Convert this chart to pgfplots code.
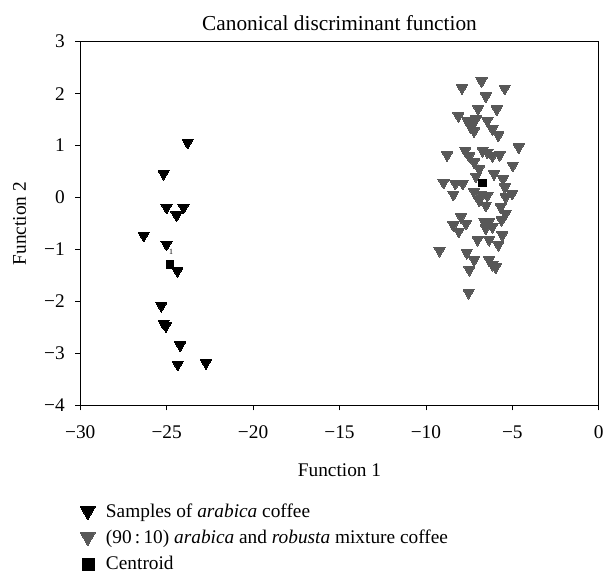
\documentclass[border=0pt]{standalone}
\usepackage{fontspec}
\setmainfont{Liberation Serif}
\usepackage{pgfplots}
\pgfplotsset{compat=1.18}
\usepackage{pgfplotstable}
\definecolor{mixgray}{RGB}{88,88,88}

\pgfplotstableread{
x y
-23.79 1.06
-25.18 0.46
-25.01 -0.19
-24.03 -0.19
-24.43 -0.34
-26.33 -0.73
-25.01 -0.90
-24.38 -1.41
-25.31 -2.08
-25.18 -2.42
-25.05 -2.47
-24.22 -2.84
-24.36 -3.21
-22.73 -3.18
}\arabica

\pgfplotstableread{
x y
-6.78 2.24
-7.91 2.11
-5.44 2.10
-6.53 1.95
-6.98 1.71
-5.90 1.70
-8.12 1.57
-7.59 1.48
-7.11 1.51
-7.39 1.35
-6.44 1.48
-6.15 1.32
-5.81 1.20
-7.21 1.28
-7.49 1.41
-4.63 0.97
-8.77 0.82
-7.72 0.90
-7.49 0.80
-6.72 0.90
-6.44 0.87
-6.15 0.80
-5.73 0.82
-7.21 0.68
-4.97 0.62
-6.92 0.55
-7.11 0.41
-6.06 0.46
-5.54 0.36
-8.98 0.29
-8.30 0.27
-7.87 0.27
-8.41 0.06
-7.21 0.11
-6.82 0.06
-6.44 0.04
-5.43 0.20
-5.00 0.08
-5.39 0.01
-6.92 -0.05
-6.53 -0.15
-5.67 -0.18
-5.39 -0.31
-5.62 -0.43
-7.97 -0.37
-8.41 -0.53
-7.68 -0.50
-8.10 -0.65
-6.63 -0.46
-6.34 -0.46
-6.53 -0.59
-6.15 -0.56
-5.58 -0.72
-7.01 -0.81
-6.34 -0.81
-5.81 -0.91
-9.21 -1.02
-7.64 -1.06
-7.21 -1.20
-6.34 -1.20
-5.96 -1.34
-7.49 -1.39
-7.53 -1.83
-6.15 -1.29
}\mixture

\pgfplotstableread{
x y
-24.80 -1.29
-6.72 0.28
}\centroid

\begin{document}
\fontsize{19.5}{23}\selectfont
\begin{tikzpicture}
\begin{axis}[
  scale only axis,
  width=523pt, height=367pt,
  xmin=-30, xmax=0, ymin=-4, ymax=3,
  xtick={-30,-25,-20,-15,-10,-5,0},
  xticklabels={−30,−25,−20,−15,−10,−5,0},
  ytick={-4,-3,-2,-1,0,1,2,3},
  yticklabels={−4,−3,−2,−1,0,1,2,3},
  tick align=outside,
  xtick pos=bottom, ytick pos=left,
  major tick length=5pt,
  tick style={black, line width=0.8pt},
  axis line style={line width=0.8pt},
  ticklabel style={font=\fontsize{19.5}{23}\selectfont},
  xticklabel style={yshift=-9pt},
  yticklabel style={xshift=-4pt},
  label style={font=\fontsize{19.5}{23}\selectfont},
  xlabel style={yshift=-12pt},
  ylabel style={yshift=5pt},
  title style={font=\fontsize{21.5}{25}\selectfont, yshift=-2pt},
  title={Canonical discriminant function},
  xlabel={Function 1},
  ylabel={Function 2},
  legend style={at={(0,-0.266)}, anchor=north west, draw=none, fill=none,
    font=\fontsize{19.5}{23}\selectfont, row sep=5.5pt, inner sep=0pt},
  legend cell align=left,
]
\addplot[only marks, mark=triangle*, mark size=6.5pt,
  mark options={rotate=180, fill=black, draw=black, line width=0pt},
  legend image code/.code={
    \draw[black, fill=black] plot[mark=triangle*, mark size=8.5pt, mark options={rotate=180, line width=0pt}] coordinates {(0,1.5pt)};}]
  table[x=x,y=y] {\arabica};
\addlegendentry{\hspace{9pt}Samples of \textit{arabica} coffee}
\addplot[only marks, mark=triangle*, mark size=6.5pt,
  mark options={rotate=180, fill=mixgray, draw=mixgray, line width=0pt},
  legend image code/.code={
    \draw[mixgray, fill=mixgray] plot[mark=triangle*, mark size=8.5pt, mark options={rotate=180, line width=0pt}] coordinates {(0,1.5pt)};}]
  table[x=x,y=y] {\mixture};
\addlegendentry{\hspace{9pt}(90\,:\,10) \textit{arabica} and \textit{robusta} mixture coffee}
\addplot[only marks, mark=square*, mark size=3.8pt,
  mark options={fill=black, draw=black, line width=0pt},
  legend image code/.code={
    \fill[black] (-6pt,-5.5pt) rectangle (6pt,6.5pt);}]
  table[x=x,y=y] {\centroid};
\addlegendentry{\hspace{9pt}Centroid}
\node[font=\fontsize{8}{8}\selectfont, inner sep=0pt] at (axis cs:-24.75,-1.05) {1};
\node[font=\fontsize{8}{8}\selectfont, inner sep=0pt] at (axis cs:-6.95,0.57) {2};
\end{axis}
\path (current axis.south west) ++(-81pt,-164pt) rectangle ++(610pt,573pt);
\end{tikzpicture}
\end{document}
